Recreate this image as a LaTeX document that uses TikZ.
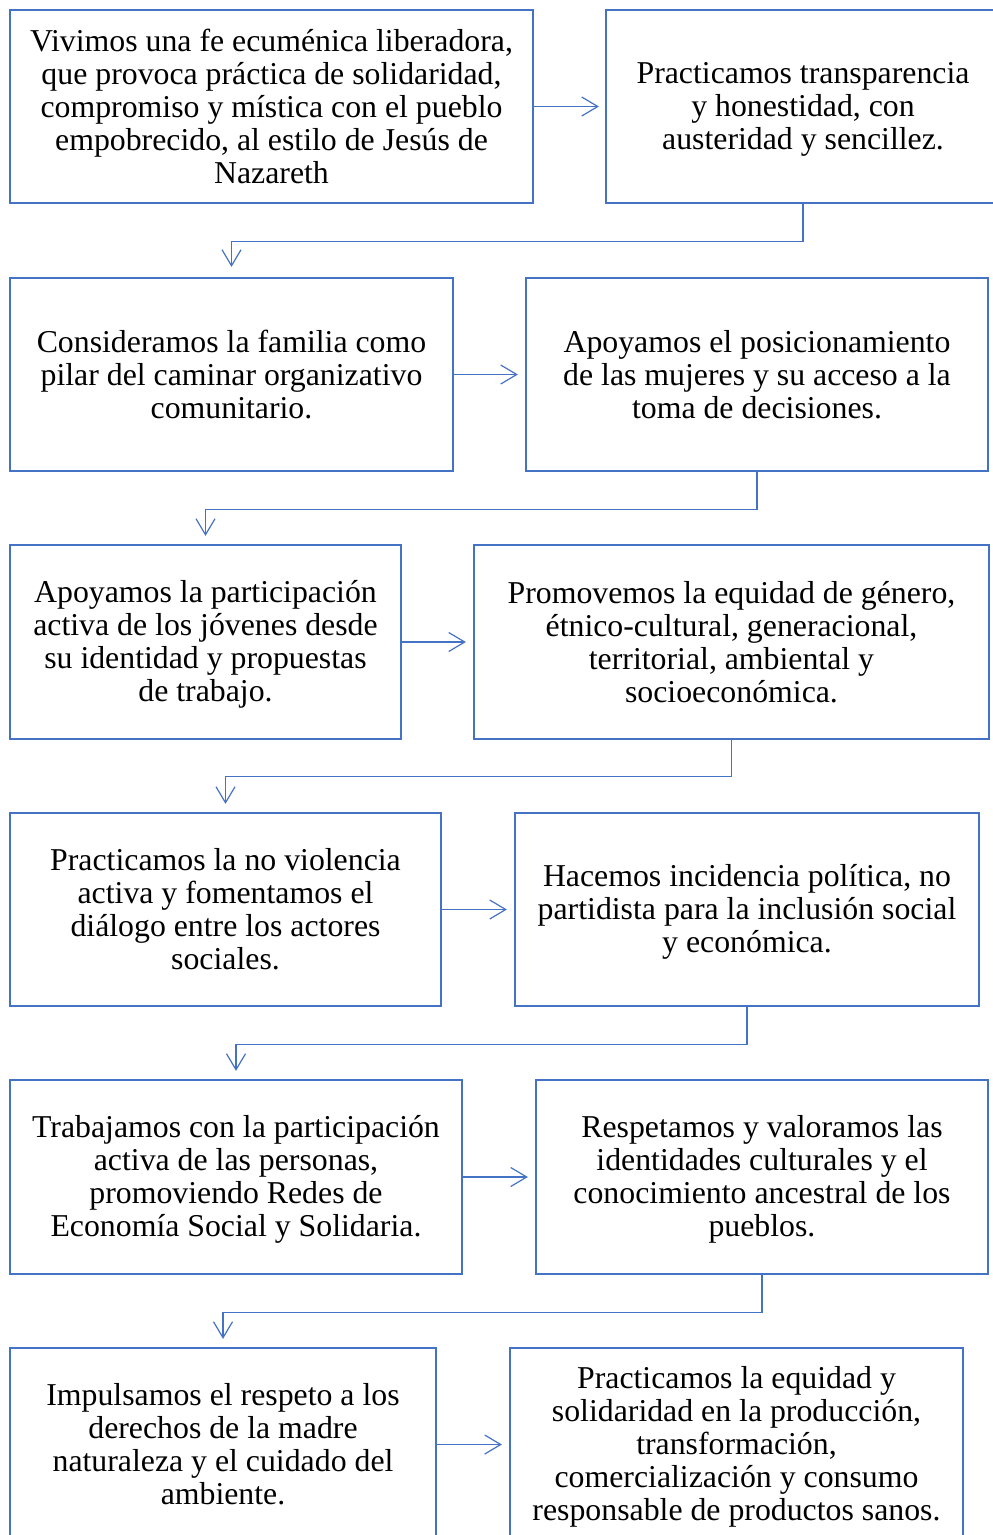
\documentclass[tikz,border=0pt]{standalone}
\usepackage{fontspec}
\setmainfont{Liberation Serif}
\usetikzlibrary{arrows.meta}
\definecolor{bblue}{HTML}{4472C4}
\newcommand\lnfirst{\rule{0pt}{27.3pt}}
\newcommand\lnlast{\rule[-5.7pt]{0pt}{5.7pt}}
\newcommand\boxfont{\fontsize{31.8}{33}\selectfont}
\tikzset{
  box/.style={draw=bblue, line width=2.2pt, rectangle, align=center, inner sep=0pt,
    font=\boxfont},
  conn/.style={draw=bblue, line width=1.2pt, -{Straight Barb[length=16pt,width=19pt,line width=1.2pt]}},
}
\begin{document}
\begin{tikzpicture}[x=1pt,y=-1pt]
\useasboundingbox (0,0) rectangle (993,1535);
\clip (0,0) rectangle (993,1535);
% row 1
\node[box, minimum width=523pt, minimum height=193pt] (b1) at (271.5,106.5) {\lnfirst Vivimos una fe ecuménica liberadora,\\ que provoca práctica de solidaridad,\\ compromiso y mística con el pueblo\\ empobrecido, al estilo de Jesús de\\ Nazareth\lnlast};
\node[box, minimum width=394pt, minimum height=193pt] (b2) at (803,106.5) {\lnfirst Practicamos transparencia\\ y honestidad, con\\ austeridad y sencillez.\lnlast};
% row 2
\node[box, minimum width=443pt, minimum height=193pt] (b3) at (231.5,374.5) {\lnfirst Consideramos la familia como\\ pilar del caminar organizativo\\ comunitario.\lnlast};
\node[box, minimum width=462pt, minimum height=193pt] (b4) at (757,374.5) {\lnfirst Apoyamos el posicionamiento\\ de las mujeres y su acceso a la\\ toma de decisiones.\lnlast};
% row 3
\node[box, minimum width=391pt, minimum height=194pt] (b5) at (205.5,642) {\lnfirst Apoyamos la participación\\ activa de los jóvenes desde\\ su identidad y propuestas\\ de trabajo.\lnlast};
\node[box, minimum width=515pt, minimum height=194pt] (b6) at (731.5,642) {\lnfirst Promovemos la equidad de género,\\ étnico-cultural, generacional,\\ territorial, ambiental y\\ socioeconómica.\lnlast};
% row 4
\node[box, minimum width=431pt, minimum height=193pt] (b7) at (225.5,909.5) {\lnfirst Practicamos la no violencia\\ activa y fomentamos el\\ diálogo entre los actores\\ sociales.\lnlast};
\node[box, minimum width=464pt, minimum height=193pt] (b8) at (747,909.5) {\lnfirst Hacemos incidencia política, no\\ partidista para la inclusión social\\ y económica.\lnlast};
% row 5
\node[box, minimum width=452pt, minimum height=194pt] (b9) at (236,1177) {\lnfirst Trabajamos con la participación\\ activa de las personas,\\ promoviendo Redes de\\ Economía Social y Solidaria.\lnlast};
\node[box, minimum width=452pt, minimum height=194pt] (b10) at (762,1177) {\lnfirst Respetamos y valoramos las\\ identidades culturales y el\\ conocimiento ancestral de los\\ pueblos.\lnlast};
% row 6
\node[box, minimum width=426pt, minimum height=193pt] (b11) at (223,1444.5) {\lnfirst Impulsamos el respeto a los\\ derechos de la madre\\ naturaleza y el cuidado del\\ ambiente.\lnlast};
\node[box, minimum width=453pt, minimum height=193pt] (b12) at (736.5,1444.5) {\lnfirst Practicamos la equidad y\\ solidaridad en la producción,\\ transformación,\\ comercialización y consumo\\ responsable de productos sanos.\lnlast};
% horizontal arrows
\draw[conn, shorten >=6pt] (b1) -- (b2);
\draw[conn, shorten >=7pt] (b3) -- (b4);
\draw[conn, shorten >=7pt] (b5) -- (b6);
\draw[conn, shorten >=7pt] (b7) -- (b8);
\draw[conn, shorten >=7pt] (b9) -- (b10);
\draw[conn, shorten >=7pt] (b11.east) -- (b11.east -| b12.west);
% elbow connectors
\draw[conn, shorten >=10pt] (b2.south) -- ++(0,37) -| (b3.north);
\draw[conn, shorten >=8pt] (b4.south) -- ++(0,37) -| (b5.north);
\draw[conn, shorten >=8pt] (b6.south) -- ++(0,36) -| (b7.north);
\draw[conn, shorten >=8pt] (b8.south) -- ++(0,37) -| (b9.north);
\draw[conn, shorten >=8pt] (b10.south) -- ++(0,37) -| (b11.north);
\end{tikzpicture}
\end{document}
